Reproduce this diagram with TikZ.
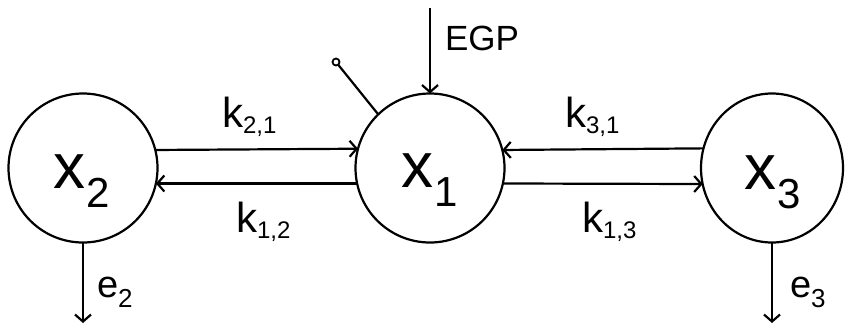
\documentclass[tikz,border=0pt]{standalone}
\usepackage{fontspec}
\setmainfont{Liberation Sans}
\usetikzlibrary{arrows.meta,shapes.geometric}
\newcommand{\fs}[1]{\fontsize{#1}{#1}\selectfont}
\begin{document}
\begin{tikzpicture}[x=1pt,y=-1pt,
  line width=2.2pt,
  compart/.style={draw,circle,inner sep=0pt,outer sep=0pt,minimum size=149pt},
  txt/.style={inner sep=0pt,outer sep=0pt,anchor=base west},
  flow/.style={-{Straight Barb[length=7pt,width=16pt,line width=2.2pt]}}]
\useasboundingbox (0,0) rectangle (845,325);
% compartments
\node[compart] (x2) at (83,168) {};
\node[compart] (x1) at (430,168) {};
\node[draw,ellipse,inner sep=0pt,outer sep=0pt,minimum width=142pt,minimum height=149pt] (x3) at (772,168) {};
% compartment labels
\node[txt] (lx2) at (53,188) {\fs{64}x\kern1pt\raisebox{-19pt}{\fs{42}2}};
\node[txt] (lx1) at (401,187) {\fs{64}x\kern1pt\raisebox{-19pt}{\fs{42}1}};
\node[txt] (lx3) at (744,189) {\fs{64}x\kern1pt\raisebox{-19pt}{\fs{42}3}};
% exchange between compartments
\draw[flow] (x2.14.7) -- (x1.165.3);
\draw[flow] (x1.192.3) -- (x2.-12.3);
\draw[flow] (x3.164.5) -- (x1.14.7);
\draw[flow] (x1.-12.3) -- (x3.193);
\node[txt] (k21) at (222,127) {\fs{42}k\raisebox{-6pt}{\fs{24}2,1}};
\node[txt] (k12) at (236,232) {\fs{42}k\raisebox{-6pt}{\fs{24}1,2}};
\node[txt] (k31) at (565,127) {\fs{42}k\raisebox{-6pt}{\fs{24}3,1}};
\node[txt] (k13) at (582,232) {\fs{42}k\raisebox{-6pt}{\fs{24}1,3}};
% input and measurement
\coordinate (egp0) at (430,8);
\draw[flow] (egp0) -- (x1.north);
\node[txt] (egp) at (445,50) {\fs{35}EGP};
\coordinate (probe) at (336,62);
\draw (x1.134) -- (probe);
\draw[line width=1.8pt,fill=white] (probe) circle (3.5pt);
% eliminations
\coordinate (out2) at (83,323);
\coordinate (out3) at (772,323);
\draw[flow] (x2.south) -- (out2);
\draw[flow] (x3.south) -- (out3);
\node[txt] (e2) at (97,297) {\fs{38}e\raisebox{-10pt}{\fs{26}2}};
\node[txt] (e3) at (790,297) {\fs{38}e\raisebox{-10pt}{\fs{26}3}};
\end{tikzpicture}
\end{document}
